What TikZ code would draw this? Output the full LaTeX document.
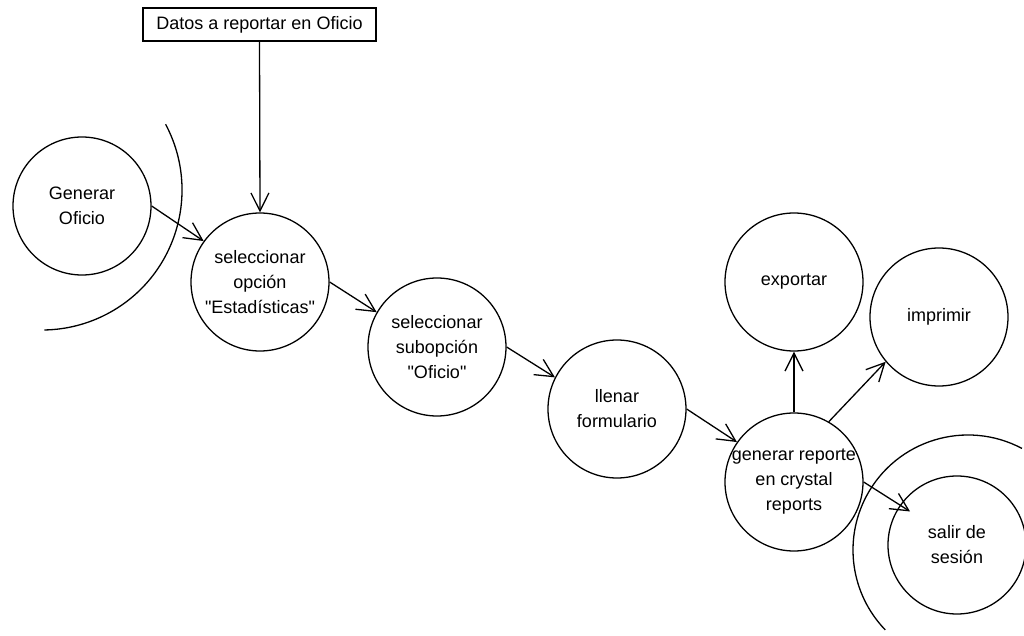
\documentclass[tikz,border=0pt]{standalone}
\usepackage{fontspec}
\setmainfont{Liberation Sans}
\usetikzlibrary{arrows.meta}

\tikzset{
  proceso/.style={circle,draw,minimum size=69pt,inner sep=-4pt,align=center},
  dato/.style={rectangle,draw,minimum width=116.5pt,minimum height=16.5pt,inner sep=0pt}
}

\begin{document}
\begin{tikzpicture}[x=0.5pt,y=-0.5pt,line width=0.65pt,
    font=\fontsize{9}{12.5}\selectfont,
    >={Straight Barb[length=9pt,width=9pt]}]
            \useasboundingbox (0,0) rectangle (1024,636);
            \node[dato] (datos) at (259.5,24.5) {Datos a reportar en Oficio};
            \node[proceso] (gen) at (82,206) {Generar\\Oficio};
            \node[proceso] (sel) at (260,282) {seleccionar\\opción\\\textquotedbl Estadísticas\textquotedbl};
            \node[proceso] (sub) at (437,347) {seleccionar\\subopción\\\textquotedbl Oficio\textquotedbl};
            \node[proceso] (llen) at (617,409) {llenar\\formulario};
            \node[proceso] (rep) at (794,482) {generar reporte\\en crystal\\reports};
            \node[proceso] (exp) at (794,282) {exportar};
            \node[proceso] (imp) at (939,317) {imprimir};
            \node[proceso] (sal) at (957,545) {salir de\\sesión};
            % bordes de inicio y fin
            \draw ([shift={(-28:140)}]42,190) arc[start angle=-28,end angle=89,radius=140];
            \draw ([shift={(-62:115)}]968,550) arc[start angle=-62,end angle=-224,radius=115];
            \draw[->] (datos.south) to (sel.north);
            \draw[->] (gen.east) to (sel.144);
            \draw[->] (sel.east) to (sub.150);
            \draw[->] (sub.east) to (llen.153);
            \draw[->] (llen.east) to (rep.145);
            \draw[->] (rep.north) to (exp.south);
            \draw[->] (rep.60) to (imp.220);
            \draw[->,shorten >=-6pt] (rep.east) to (sal.145);
        \end{tikzpicture}
\end{document}
